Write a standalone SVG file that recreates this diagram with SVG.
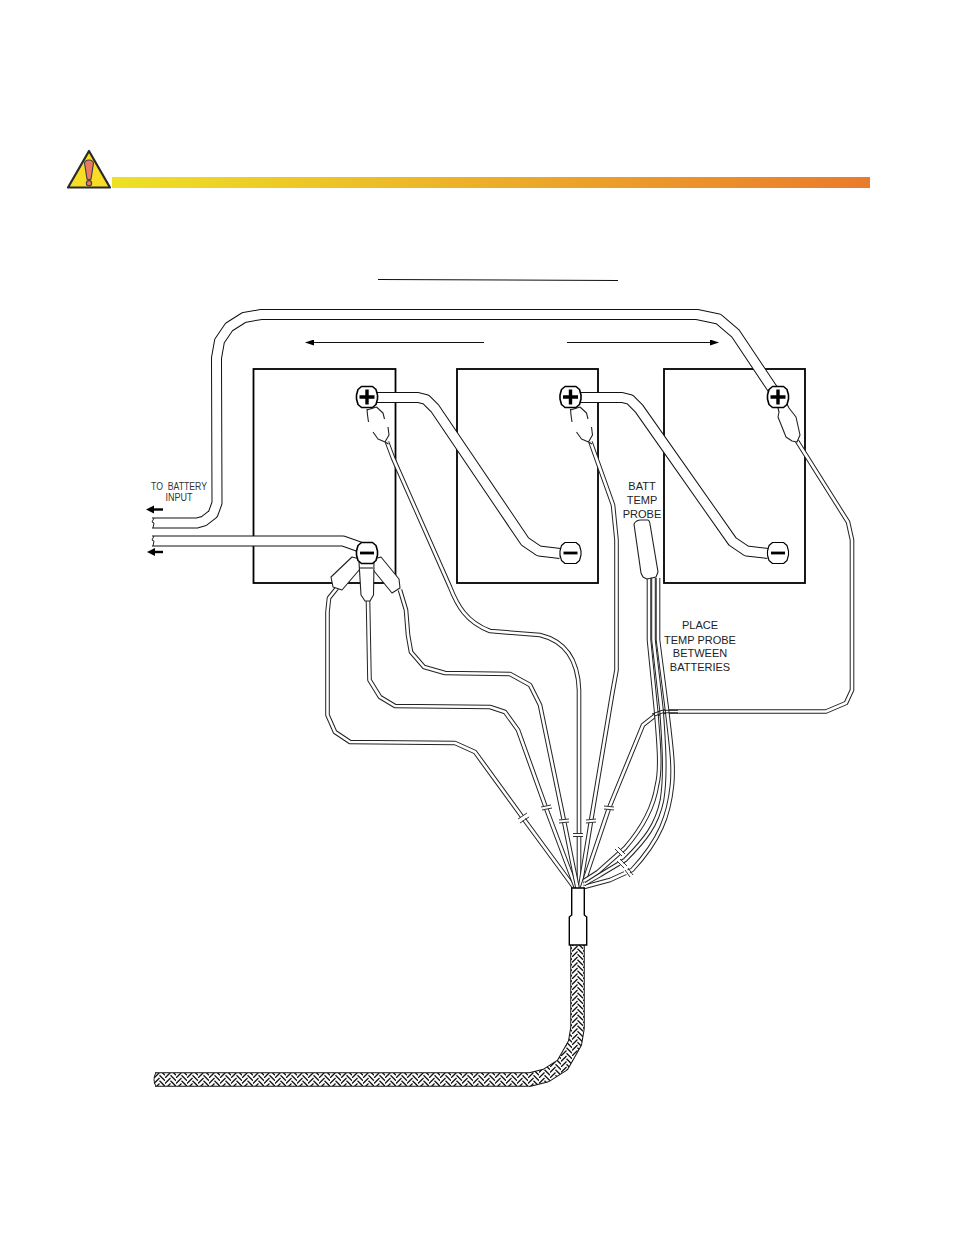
<svg xmlns="http://www.w3.org/2000/svg" width="954" height="1235" viewBox="0 0 954 1235">
<style>
text{font-family:"Liberation Sans",Arial,sans-serif;fill:#222;text-anchor:middle}
.lbl{font-size:11px}
.sm{font-size:10px;fill:#333}
.bat{fill:#fff;stroke:#000;stroke-width:1.8}
.co{fill:none;stroke:#111;stroke-width:11;stroke-linejoin:round}
.ci{fill:none;stroke:#fff;stroke-width:9;stroke-linejoin:round}
.to{fill:none;stroke:#222;stroke-width:4.6;stroke-linejoin:round}
.ti{fill:none;stroke:#fff;stroke-width:2.6;stroke-linejoin:round}
.term{fill:#fff;stroke:#000;stroke-width:1.6;stroke-linejoin:round}
.sym{stroke:#000;stroke-width:3.4;fill:none}
.lug{fill:#fff;stroke:#222;stroke-width:1.1;stroke-linejoin:round}
.open{fill:none;stroke:#222;stroke-width:1.1;stroke-linejoin:round}
.clip{fill:none;stroke:#333;stroke-width:1}
.gap{fill:none;stroke:#fff;stroke-width:3.5}
.ln{stroke:#111;stroke-width:1.1;fill:none}
.thin{stroke:#222;stroke-width:1;fill:none}
</style>
<defs>
<linearGradient id="bar" x1="0" x2="1" y1="0" y2="0"><stop offset="0" stop-color="#eee125"/><stop offset="1" stop-color="#ea7b2c"/></linearGradient>
<pattern id="braid" width="11" height="11" patternUnits="userSpaceOnUse"><rect width="11" height="11" fill="#fff"/><path d="M0 5.500L5.500 0M0 11L5.500 5.500M0 16.500L5.500 11M5.500 2.750L11 8.250M5.500 8.250L11 13.750M5.500-2.750L11 2.750" fill="none" stroke="#111" stroke-width="1.300"/></pattern>
<marker id="ah" markerWidth="9" markerHeight="6" refX="8" refY="3" orient="auto" markerUnits="userSpaceOnUse"><path d="M0 0L9 3L0 6Z" fill="#000"/></marker>
<path id="cTop" d="M152 523L197 523L204 521L213 514L217 503L216.500 358L219.500 341L229 327L244 317.500L261 314.500L697 314.500L718.500 319L735.500 333.500L778 397"/>
<path id="cLow" d="M152 541L343 541L360 547"/>
<path id="c12" d="M372 397.500L418 397.500L426 399.500L435 408.500L525 541.500L539 551L560 553.500"/>
<path id="c23" d="M580 397.500L622 397.500L630 399.500L639 408.500L732.500 541.500L746.500 551L768 553.500"/>
<path id="w1" d="M387 442L393 458L450 587C457 605 466 622 490 631L540 635C565 641 578 660 579 690L579 888"/>
<path id="w2" d="M590.500 442L613 505L616.500 540L616.500 670L612 695L591 821L580 888"/>
<path id="w3" d="M797 441L848 522L852 540L852 690L846 703L826 711.500L665 711.500L657 714L643 725L609 808L582 888"/>
<path id="w4" d="M337 588L329 598L327.500 612L327.500 715L335 732L350 742L455 743L475 752L523 818L574.500 888"/>
<path id="w5" d="M368 600L369.500 680L380 697L395 706L490 707L505 712L518 730L546 808L576 888"/>
<path id="w6" d="M400 590L406 610L408 635L411 652L424 667L445 673L510 674L530 685L540 705L564 821L577.500 888"/>
<path id="p1" d="M649 578L649 640L656 710C659 745 661 770 657 785C654 805 645 825 625 848L598 872L584 881"/>
<path id="p2" d="M653.500 578L653.500 640L661.500 710C664 745 666 775 662 800C657 825 645 840 625 860L600 875L584 884"/>
<path id="p3" d="M658 578L658 640L667 710C671 745 674 765 672 785C669 815 660 840 632 870L610 880L584 887"/>
<path id="term" d="M-5.500-10.500H5.500L9-7.500L10.500-2V2L9 7.500L5.500 10.500H-5.500L-9 7.500L-10.500 2V-2L-9-7.500Z"/>
</defs>
<rect width="954" height="1235" fill="#fff"/>
<g id="warning">
<path d="M89 151L68 187.500L110 187.500Z" fill="#f8dc25" stroke="#2a2a2a" stroke-width="2.200" stroke-linejoin="round"/>
<path d="M84.500 163Q85 160 89 160Q93 160 93.500 163L91 179Q89 181 87 179Z" fill="#ec7a62" stroke="#444" stroke-width="1.200"/>
<circle cx="89" cy="183.300" r="2.600" fill="#ec7a62" stroke="#444" stroke-width="1.200"/>
</g>
<rect id="warning-bar" x="112" y="177" width="758" height="11" fill="url(#bar)"/>
<path id="title-rule" class="ln" d="M378 279.500L618 280.500"/>
<g id="battery-1"><rect class="bat" x="253.500" y="369" width="142" height="214"/></g>
<g id="battery-2"><rect class="bat" x="457" y="369" width="141" height="214"/></g>
<g id="battery-3"><rect class="bat" x="664" y="369" width="141" height="214"/></g>
<g id="arrows">
<path class="ln" d="M484 342.500L306 342.500" marker-end="url(#ah)"/>
<path class="ln" d="M567 342.500L718 342.500" marker-end="url(#ah)"/>
<path d="M163 509.500L152 509.500" stroke="#000" stroke-width="2.400"/><path d="M146 509.500L154 505.500V513.500Z" fill="#000"/>
<path d="M163 552L153 552" stroke="#000" stroke-width="2.400"/><path d="M147 552L155 548V556Z" fill="#000"/>
</g>
<g id="connectors">
<use href="#w1" class="to"/><use href="#w1" class="ti"/>
<use href="#w2" class="to"/><use href="#w2" class="ti"/>
<use href="#w3" class="to"/><use href="#w3" class="ti"/>
<use href="#w4" class="to"/><use href="#w4" class="ti"/>
<use href="#w5" class="to"/><use href="#w5" class="ti"/>
<use href="#w6" class="to"/><use href="#w6" class="ti"/>
<use href="#p3" class="to"/><use href="#p3" class="ti"/>
<use href="#p2" class="to"/><use href="#p2" class="ti"/>
<use href="#p1" class="to"/><use href="#p1" class="ti"/>
<path class="thin" d="M652 714L662 710.300H678M654 716.300L663 712.800H678"/>
<use href="#cTop" class="co"/><use href="#cTop" class="ci"/>
<use href="#cLow" class="co"/><use href="#cLow" class="ci"/>
<use href="#c12" class="co"/><use href="#c12" class="ci"/>
<use href="#c23" class="co"/><use href="#c23" class="ci"/>
<path class="thin" d="M154 518L152 522L154 523L153 528M154 536L152 540L154 541L153 546"/>
</g>
<g id="clips">
<path class="gap" d="M519 821L527 815M542 808L551 807M560 821L569 821M574 835L583 835M587 821L596 821M604 807L614 809M616 848L623 855M618 860L625 868M625 870L631 877"/>
<path class="clip" d="M518 819L527 813M520 823L529 817M541 807L551 805M542 810L552 808M559 820L569 819M559 823L569 822M573 833.500L583 833.500M573 836.500L583 836.500M586 820L596 819M586 823L596 822M604 806L614 807M604 809L614 810M618 847L625 854M615 849L622 856M620 859L627 866M617 861L624 868M628 868L633 875M625 870L630 877"/>
</g>
<g id="lugs">
<path class="open" d="M367 409L367.500 415L368.500 422M376.500 407L383 413L384.500 419M367 410L376.500 407"/>
<path class="open" d="M373 432L378 439L385 442L389 435L388 427M385 442L388.500 444"/>
<path class="open" d="M570.500 409L571 415L572 422M580 407L586.500 413L588 419M570.500 410L580 407"/>
<path class="open" d="M576.500 432L581.500 439L588.500 442L592.500 435L591.500 427M588.500 442L592 444"/>
<path class="lug" d="M778 408L779 412L778 417L786 437L792 441L797 442L800 435L796 417L789 408L787 404Z"/>
<path class="lug" d="M352 557L331 577L333 587L342 590L360 569L364 560Z"/>
<path class="lug" d="M381 557L399 579L400 588L392 593L374 571L370 560Z"/>
<path class="lug" d="M359 562L361 595L365 601L370 601L373.500 595L374 562Z"/>
<path class="open" d="M359 568H373"/>
</g>
<g id="terminal-pos-1"><use href="#term" class="term" x="367" y="397"/><path class="sym" d="M367 389.500V404.500M359.500 397H374.500"/></g>
<g id="terminal-pos-2"><use href="#term" class="term" x="570.500" y="397"/><path class="sym" d="M570.500 389.500V404.500M563 397H578"/></g>
<g id="terminal-pos-3"><use href="#term" class="term" x="778" y="397"/><path class="sym" d="M778 389.500V404.500M770.500 397H785.500"/></g>
<g id="terminal-neg-1"><use href="#term" class="term" x="367" y="553"/><path class="sym" style="stroke-width:2.800" d="M360 553H374"/></g>
<g id="terminal-neg-2"><use href="#term" class="term" x="570.500" y="553" style="stroke-width:1.100"/><path class="sym" style="stroke-width:2.800" d="M563.500 553H577.500"/></g>
<g id="terminal-neg-3"><use href="#term" class="term" x="778" y="553" style="stroke-width:1.100"/><path class="sym" style="stroke-width:2.800" d="M771 553H785"/></g>
<g id="probe"><path d="M634 524Q636 520 641 520L648 520Q650 521 650 524L658 572L656 577L647 579L643 577L641 573Z" fill="#fff" stroke="#222" stroke-width="1.100"/></g>
<g id="braid-cable">
<path d="M577.500 945L577.500 1028L575 1043L562.500 1065L546 1075.500L530 1079.500L155 1079.500" fill="none" stroke="#111" stroke-width="14.500" stroke-linejoin="round"/>
<path d="M577.500 945L577.500 1028L575 1043L562.500 1065L546 1075.500L530 1079.500L154 1079.500" fill="none" stroke="url(#braid)" stroke-width="12.500" stroke-linejoin="round"/>
<path class="thin" d="M156 1072.500Q152 1079.500 156 1086.500"/>
</g>
<g id="sleeve">
<path d="M571.700 888H584.300V915L586.700 917V945H569.300V917L571.700 915Z" fill="#fff" stroke="#000" stroke-width="1.400"/>
</g>
<g id="labels">
<text class="sm" x="179" y="490" textLength="56" lengthAdjust="spacingAndGlyphs" xml:space="preserve">TO  BATTERY</text>
<text class="sm" x="179" y="500.500" textLength="27" lengthAdjust="spacingAndGlyphs">INPUT</text>
<text class="lbl" x="642" y="490">BATT</text>
<text class="lbl" x="642" y="504">TEMP</text>
<text class="lbl" x="642" y="518">PROBE</text>
<text class="lbl" x="700" y="629">PLACE</text>
<text class="lbl" x="700" y="644">TEMP PROBE</text>
<text class="lbl" x="700" y="657">BETWEEN</text>
<text class="lbl" x="700" y="671">BATTERIES</text>
</g>
</svg>
